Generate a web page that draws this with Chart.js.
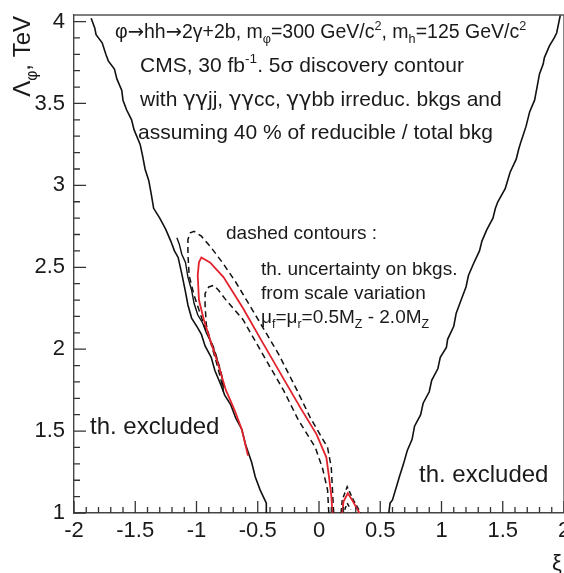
<!DOCTYPE html>
<html>
<head>
<meta charset="utf-8">
<script src="https://cdn.jsdelivr.net/npm/chart.js@4.4.0/dist/chart.umd.min.js"></script>
<style>
html, body { margin: 0; padding: 0; background: #fff; overflow: hidden; width: 564px; height: 573px; }
#wrap { width: 580px; height: 573px; }
</style>
</head>
<body>
<div id="wrap"><canvas id="c" width="580" height="573"></canvas></div>
<script>
// axis ticks
const xTickValues = [-2, -1.5, -1, -0.5, 0, 0.5, 1, 1.5, 2];
const xTickLabels = ['-2', '-1.5', '-1', '-0.5', '0', '0.5', '1', '1.5', '2'];
const yTickValues = [1, 1.5, 2, 2.5, 3, 3.5, 4];
const yTickLabels = ['1', '1.5', '2', '2.5', '3', '3.5', '4'];

// theoretically excluded boundaries (solid black, jagged)
const leftEdgeX = [-1.86, -1.83, -1.82, -1.77, -1.74, -1.72, -1.67, -1.65, -1.61, -1.60, -1.57, -1.53, -1.51, -1.46, -1.44, -1.42, -1.39, -1.37, -1.35, -1.30, -1.25, -1.21, -1.18, -1.15, -1.12, -1.09, -1.07, -1.04, -0.99, -0.96, -0.93, -0.88, -0.85, -0.80, -0.77, -0.72, -0.68, -0.63, -0.60, -0.55, -0.52, -0.48, -0.43, -0.43];
const leftEdgeY = [4.02, 3.96, 3.92, 3.87, 3.80, 3.76, 3.71, 3.65, 3.58, 3.52, 3.46, 3.40, 3.34, 3.25, 3.18, 3.10, 3.03, 2.95, 2.86, 2.80, 2.73, 2.66, 2.60, 2.56, 2.46, 2.35, 2.27, 2.19, 2.13, 2.09, 2.02, 1.95, 1.87, 1.78, 1.72, 1.66, 1.58, 1.51, 1.42, 1.31, 1.22, 1.14, 1.06, 1.0];
const edge2X = [-1.16, -1.14, -1.12, -1.09, -1.07, -1.04, -1.02, -0.99, -0.95, -0.92, -0.88, -0.84, -0.81, -0.79, -0.78];
const edge2Y = [2.68, 2.64, 2.58, 2.53, 2.44, 2.36, 2.28, 2.21, 2.16, 2.10, 2.04, 1.96, 1.88, 1.82, 1.74];
const rightEdgeX = [0.57, 0.58, 0.60, 0.64, 0.66, 0.69, 0.72, 0.76, 0.78, 0.83, 0.85, 0.90, 0.92, 0.97, 0.99, 1.04, 1.05, 1.10, 1.12, 1.16, 1.20, 1.22, 1.26, 1.31, 1.33, 1.37, 1.42, 1.44, 1.46, 1.52, 1.54, 1.56, 1.61, 1.63, 1.65, 1.69, 1.72, 1.76, 1.78, 1.80, 1.83, 1.84, 1.88, 1.92, 1.94, 1.97];
const rightEdgeY = [1.0, 1.06, 1.08, 1.18, 1.23, 1.30, 1.38, 1.45, 1.53, 1.60, 1.67, 1.74, 1.81, 1.88, 1.95, 2.01, 2.06, 2.14, 2.22, 2.30, 2.38, 2.45, 2.52, 2.60, 2.66, 2.73, 2.80, 2.86, 2.90, 2.98, 3.03, 3.08, 3.16, 3.22, 3.27, 3.36, 3.45, 3.52, 3.60, 3.68, 3.74, 3.78, 3.85, 3.90, 3.93, 4.04];

// 5 sigma contour (red)
const redX = [-0.58, -0.63, -0.69, -0.76, -0.82, -0.89, -0.94, -0.98, -0.99, -0.98, -0.96, -0.89, -0.78, -0.62, -0.46, -0.29, -0.15, -0.02, 0.06, 0.08, 0.10, 0.11];
const redY = [1.35, 1.51, 1.63, 1.75, 1.90, 2.06, 2.18, 2.30, 2.45, 2.53, 2.56, 2.53, 2.44, 2.25, 2.04, 1.82, 1.64, 1.48, 1.34, 1.23, 1.11, 1.0];
const redSmallX = [0.19, 0.20, 0.235, 0.27, 0.33];
const redSmallY = [1.0, 1.07, 1.12, 1.08, 1.0];

// scale variation contours (dashed)
const outerX = [0.12, 0.11, 0.10, 0.07, -0.07, -0.18, -0.33, -0.52, -0.68, -0.78, -0.88, -0.96, -1.02, -1.05, -1.07, -1.07, -1.06, -1.02, -0.98, -0.93, -0.86, -0.80, -0.77];
const outerY = [1.0, 1.14, 1.28, 1.40, 1.58, 1.75, 1.97, 2.21, 2.41, 2.52, 2.62, 2.69, 2.72, 2.71, 2.67, 2.58, 2.45, 2.33, 2.24, 2.13, 2.01, 1.86, 1.75];
const innerX = [0.08, 0.07, 0.03, -0.03, -0.17, -0.29, -0.46, -0.62, -0.77, -0.82, -0.86, -0.90, -0.93, -0.93, -0.92, -0.88, -0.83, -0.79];
const innerY = [1.0, 1.14, 1.27, 1.40, 1.57, 1.75, 1.97, 2.18, 2.31, 2.36, 2.39, 2.38, 2.34, 2.27, 2.15, 2.03, 1.90, 1.78];
const outerSmallX = [0.18, 0.19, 0.23, 0.28, 0.34];
const outerSmallY = [1.0, 1.08, 1.16, 1.08, 1.0];
const innerSmallX = [0.21, 0.23, 0.26];
const innerSmallY = [1.02, 1.06, 1.02];

// texts
const infoLines = [
  [['φ', ''], ['→', 'arr'], ['hh', ''], ['→', 'arr'], ['2γ+2b, m', ''], ['φ', 'sub'], ['=300 GeV/c', ''], ['2', 'sup'], [', m', ''], ['h', 'sub'], ['=125 GeV/c', ''], ['2', 'sup']],
  [['CMS, 30 fb', ''], ['-1', 'sup'], ['. 5σ discovery contour', '']],
  [['with ', ''], ['γγ', 'gr'], ['jj, ', ''], ['γγ', 'gr'], ['cc, ', ''], ['γγ', 'gr'], ['bb irreduc. bkgs and', '']],
  [['assuming 40 % of reducible / total bkg', '']]
];
const dashNote = [
  [['dashed contours :', '']],
  [['th. uncertainty on bkgs.', '']],
  [['from scale variation', '']],
  [['μ', ''], ['f', 'sub'], ['=μ', ''], ['r', 'sub'], ['=0.5M', ''], ['Z', 'sub'], [' - 2.0M', ''], ['Z', 'sub']]
];
const excludedLabel = 'th. excluded';
const yTitle = [['Λ', ''], ['φ', 'sub'], [', TeV', '']];
const xTitle = 'ξ';

const FAMILY = '"Liberation Sans", Arial, sans-serif';
const ALT = '"DejaVu Sans", sans-serif';
Chart.defaults.font.family = FAMILY;

function pts(xs, ys) {
  return xs.map((v, i) => ({ x: v, y: ys[i] }));
}
function curve(xs, ys, color, dash, width) {
  return {
    data: pts(xs, ys),
    showLine: true,
    pointRadius: 0,
    borderColor: color,
    borderWidth: width,
    borderDash: dash,
    fill: false,
    tension: 0
  };
}

function fontFor(kind, size) {
  if (kind === 'sub' || kind === 'sup') return (size * 0.65) + 'px ' + FAMILY;
  if (kind === 'arr' || kind === 'gr') return size + 'px ' + ALT;
  return size + 'px ' + FAMILY;
}
function rich(ctx, parts, x, y, size) {
  let cx = x;
  parts.forEach(p => {
    ctx.font = fontFor(p[1], size);
    const dy = p[1] === 'sub' ? size * 0.28 : p[1] === 'sup' ? -size * 0.42 : 0;
    ctx.fillText(p[0], cx, y + dy);
    cx += ctx.measureText(p[0]).width;
  });
  return cx - x;
}
function richWidth(ctx, parts, size) {
  let w = 0;
  parts.forEach(p => {
    ctx.font = fontFor(p[1], size);
    w += ctx.measureText(p[0]).width;
  });
  return w;
}

const decor = {
  id: 'decor',
  afterDraw(chart) {
    const { ctx, chartArea: a, scales: { x, y } } = chart;
    ctx.save();
    ctx.strokeStyle = '#555';
    ctx.lineWidth = 1.4;
    ctx.beginPath();
    ctx.moveTo(a.left, a.top);
    ctx.lineTo(a.right, a.top);
    ctx.lineTo(a.right, a.bottom);
    ctx.stroke();

    ctx.strokeStyle = '#333';
    ctx.lineWidth = 1.3;
    ctx.beginPath();
    for (let i = -20; i <= 20; i++) {
      const px = x.getPixelForValue(i / 10);
      const len = i % 5 === 0 ? 12 : 6;
      ctx.moveTo(px, a.bottom);
      ctx.lineTo(px, a.bottom - len);
    }
    for (let i = 10; i <= 40; i++) {
      const py = y.getPixelForValue(i / 10);
      const len = i % 5 === 0 ? 12 : 6;
      ctx.moveTo(a.left, py);
      ctx.lineTo(a.left + len, py);
    }
    ctx.stroke();

    ctx.fillStyle = '#1a1a1a';
    ctx.textBaseline = 'alphabetic';
    ctx.textAlign = 'left';
    rich(ctx, infoLines[0], 115, 38, 19.5);
    rich(ctx, infoLines[1], 140, 72, 21);
    rich(ctx, infoLines[2], 140, 106, 21);
    rich(ctx, infoLines[3], 138, 139, 21);

    rich(ctx, dashNote[0], 226, 239, 19);
    rich(ctx, dashNote[1], 261, 275, 19);
    rich(ctx, dashNote[2], 261, 299, 19);
    rich(ctx, dashNote[3], 261, 323, 19);

    ctx.font = '24px ' + FAMILY;
    ctx.fillText(excludedLabel, 90, 434);
    ctx.fillText(excludedLabel, 419, 482);

    ctx.font = '22px ' + FAMILY;
    ctx.fillText(xTitle, 552, 570);

    ctx.save();
    const tw = richWidth(ctx, yTitle, 24);
    ctx.translate(30, 16 + tw);
    ctx.rotate(-Math.PI / 2);
    rich(ctx, yTitle, 0, 0, 24);
    ctx.restore();
    ctx.restore();
  }
};

new Chart(document.getElementById('c'), {
  type: 'scatter',
  data: {
    datasets: [
      curve(redX, redY, '#e3222b', [], 1.8),
      curve(redSmallX, redSmallY, '#e3222b', [], 1.8),
      curve(outerX, outerY, '#111', [6, 4], 1.5),
      curve(innerX, innerY, '#111', [6, 4], 1.5),
      curve(outerSmallX, outerSmallY, '#111', [5, 3], 1.5),
      curve(innerSmallX, innerSmallY, '#111', [4, 3], 1.5),
      curve(leftEdgeX, leftEdgeY, '#111', [], 1.6),
      curve(edge2X, edge2Y, '#111', [], 1.4),
      curve(rightEdgeX, rightEdgeY, '#111', [], 1.6)
    ]
  },
  options: {
    responsive: false,
    animation: false,
    layout: { padding: { top: 15, right: 16, left: 0, bottom: 0 } },
    plugins: { legend: { display: false }, tooltip: { enabled: false } },
    scales: {
      x: {
        type: 'linear',
        min: -2,
        max: 2,
        grid: { display: false, drawTicks: false },
        border: { display: true, color: '#444', width: 1.4 },
        afterBuildTicks: s => { s.ticks = xTickValues.map(v => ({ value: v })); },
        afterFit: s => { s.height = 60; s.paddingLeft = 0; s.paddingRight = 0; },
        ticks: {
          autoSkip: false,
          maxRotation: 0,
          padding: 5,
          color: '#1a1a1a',
          font: { size: 22 },
          callback: (v, i) => xTickLabels[i]
        }
      },
      y: {
        type: 'linear',
        min: 1,
        max: 4.04,
        grid: { display: false, drawTicks: false },
        border: { display: true, color: '#444', width: 1.4 },
        afterBuildTicks: s => { s.ticks = yTickValues.map(v => ({ value: v })); },
        afterFit: s => { s.width = 74; s.paddingTop = 0; s.paddingBottom = 0; },
        ticks: {
          autoSkip: false,
          padding: 9,
          color: '#1a1a1a',
          font: { size: 22 },
          callback: (v, i) => yTickLabels[i]
        }
      }
    }
  },
  plugins: [decor]
});
</script>
</body>
</html>
